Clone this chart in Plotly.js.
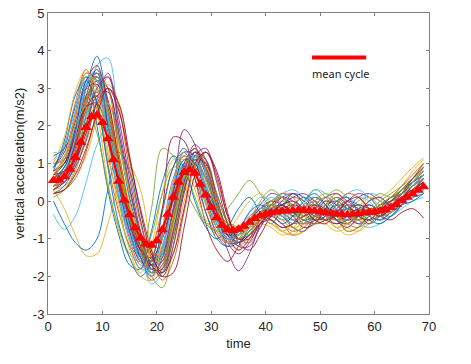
<!DOCTYPE html>
<html><head><meta charset="utf-8">
<script src="https://cdn.plot.ly/plotly-3.0.1.min.js"></script>
<style>html,body{margin:0;padding:0;background:#fff}#chart{width:471px;height:364px}</style>
</head><body><div id="chart"></div>
<script>
// sample times of the individual cycles
const cycleTimes = [1,3,5,7,9,11,13,15,17,19,21,23,25,27,29,31,33,35,37,39,41,43,45,47,49,51,53,55,57,59,61,63,65,67,69];
// individual cycles
const cycles = [
[0.6,0.9,1.7,3.0,3.4,2.1,0.5,-0.7,-1.5,-1.7,-0.8,0.4,1.2,0.9,0.0,-0.7,-1.0,-0.8,-0.5,-0.3,-0.1,-0.2,-0.4,-0.3,-0.1,-0.2,-0.4,-0.5,-0.4,-0.2,-0.3,-0.2,0.1,0.4,0.6],
[0.9,1.5,2.6,3.5,2.6,1.0,-0.3,-1.2,-1.8,-1.3,-0.2,0.9,1.3,0.6,-0.3,-0.9,-1.1,-0.7,-0.4,-0.2,-0.3,-0.5,-0.4,-0.2,0.0,-0.2,-0.5,-0.6,-0.4,-0.3,-0.1,0.0,0.2,0.5,0.8],
[0.3,0.4,0.7,1.2,2.2,3.1,2.6,1.0,-0.5,-1.5,-1.8,-0.9,0.4,1.1,0.8,-0.2,-0.8,-1.0,-0.6,-0.3,-0.5,-0.8,-0.6,-0.2,-0.1,-0.4,-0.7,-0.5,-0.2,0.0,0.1,0.3,0.6,0.9,1.15],
[0.4,0.7,1.4,2.7,3.2,2.3,0.8,-0.4,-1.3,-1.8,-1.2,0.2,1.9,1.5,0.2,-0.9,-1.2,-1.1,-0.8,-0.5,-0.2,0.1,0.2,0.0,-0.3,-0.5,-0.3,-0.1,-0.2,-0.4,-0.5,-0.3,-0.1,0.2,0.4],
[0.5,0.9,1.9,3.0,2.6,1.2,0.0,-1.2,-1.4,-0.2,1.4,1.2,0.4,-0.2,-0.6,-0.5,-0.2,0.2,0.55,0.2,-0.2,-0.4,-0.3,0.0,0.3,0.1,-0.3,-0.5,-0.3,0.0,0.2,0.1,0.3,0.5,0.7],
[0.3,0.5,1.0,2.0,3.6,3.8,1.8,0.0,-1.2,-1.9,-1.6,-0.2,0.9,1.2,0.5,-0.4,-0.9,-0.9,-0.6,-0.2,0.1,-0.1,-0.3,-0.4,-0.2,0.0,-0.2,-0.4,-0.6,-0.5,-0.3,-0.1,0.1,0.3,0.5],
[0.7,1.0,1.8,3.1,3.3,1.9,0.4,-0.8,-1.6,-1.5,-0.2,1.7,1.6,0.6,-0.6,-1.3,-1.6,-1.2,-0.7,-0.4,-0.2,-0.1,-0.3,-0.5,-0.4,-0.1,0.0,-0.2,-0.4,-0.3,-0.2,-0.1,0.2,0.3,0.6],
[0.5,0.8,1.6,3.0,3.85,2.5,0.7,-0.6,-1.4,-1.9,-1.3,0.1,1.0,1.1,0.3,-0.6,-1.1,-1.0,-0.6,-0.3,-0.2,-0.3,-0.1,0.1,-0.1,-0.4,-0.6,-0.4,-0.2,-0.3,-0.4,-0.3,0.0,0.2,0.3],
[0.8,1.1,1.9,2.8,3.1,2.2,0.8,-0.4,-1.2,-1.6,-1.4,-0.4,0.7,1.0,0.6,-0.3,-0.8,-0.9,-0.7,-0.5,-0.4,-0.6,-0.8,-0.7,-0.4,-0.2,-0.3,-0.6,-0.7,-0.5,-0.3,-0.1,0.1,0.4,0.7],
[0.3,-0.2,-0.9,-1.45,-1.4,-0.6,0.4,0.9,0.3,-1.2,-2.0,-1.4,0.0,1.0,0.9,0.0,-0.7,-0.9,-0.6,-0.4,-0.3,-0.5,-0.7,-0.6,-0.3,-0.2,-0.4,-0.6,-0.5,-0.3,-0.2,0.0,0.2,0.5,0.8],
[0.4,0.6,1.3,2.6,3.3,2.6,1.1,-0.3,-1.2,-1.7,-1.5,-0.3,0.9,1.5,1.1,-0.2,-1.3,-1.85,-1.4,-0.6,-0.1,0.1,0.0,-0.3,-0.5,-0.4,-0.2,0.0,-0.1,-0.3,-0.4,-0.2,0.1,0.3,0.5],
[0.6,0.9,1.6,2.6,3.1,2.4,1.0,-0.3,-1.3,-2.0,-2.3,-1.2,0.3,1.2,1.0,0.0,-0.8,-1.2,-0.9,-0.4,-0.1,0.0,-0.2,-0.4,-0.5,-0.3,-0.1,-0.2,-0.4,-0.3,-0.1,0.0,0.2,0.5,0.7],
[-0.35,-0.75,-0.4,0.5,1.5,2.0,1.2,-0.2,-1.3,-2.2,-1.9,-0.6,0.6,1.1,0.6,-0.3,-0.8,-0.9,-0.5,-0.2,0.0,0.2,0.0,-0.2,-0.3,-0.2,0.0,0.1,-0.1,-0.3,-0.2,0.0,0.2,0.4,0.6],
[1.2,1.4,2.1,3.2,3.6,2.3,0.6,-0.6,-1.4,-1.6,-1.0,0.2,1.1,1.0,0.2,-0.5,-0.9,-0.8,-0.5,-0.2,0.0,-0.1,-0.3,-0.2,-0.1,-0.3,-0.5,-0.4,-0.2,-0.1,-0.2,0.0,0.3,0.6,0.9],
[0.0,-0.6,-1.1,-1.3,-1.0,0.3,1.3,0.8,-0.5,-1.5,-1.6,-0.6,0.6,1.0,0.4,-0.3,-0.9,-0.8,-0.5,-0.3,-0.2,-0.1,-0.3,-0.5,-0.4,-0.3,-0.1,-0.2,-0.4,-0.5,-0.4,-0.2,0.0,0.1,0.2],
[0.7,1.2,2.2,3.3,3.0,1.6,0.1,-1.0,-1.7,-1.7,-0.7,0.6,1.2,0.8,-0.1,-0.8,-1.1,-0.9,-0.6,-0.3,-0.2,-0.1,0.1,0.0,-0.2,-0.4,-0.5,-0.3,-0.1,-0.2,-0.3,-0.1,0.2,0.5,0.9],
[0.5,0.7,1.3,2.4,3.0,2.5,1.2,-0.1,-1.1,-1.8,-1.7,-0.6,0.6,1.1,0.8,-0.1,-0.7,-0.8,-0.6,-0.4,-0.5,-0.8,-0.9,-0.6,-0.3,-0.2,-0.4,-0.7,-0.8,-0.6,-0.3,-0.1,0.2,0.6,1.0],
[0.9,1.3,2.3,3.4,3.2,1.8,0.2,-0.9,-1.6,-1.8,-0.9,0.4,1.3,1.2,0.3,-0.6,-1.0,-0.9,-0.5,-0.1,0.2,0.1,-0.1,-0.3,-0.2,0.1,0.2,0.0,-0.2,-0.3,-0.2,0.0,0.2,0.4,0.6],
[0.3,0.6,1.2,2.2,2.9,2.4,1.0,-0.3,-1.2,-1.9,-1.8,-0.6,0.7,1.3,0.9,-0.1,-0.7,-0.8,-0.5,-0.3,-0.2,-0.3,-0.1,0.1,0.0,-0.3,-0.5,-0.3,0.0,0.1,-0.1,0.0,0.3,0.6,0.8],
[1.3,1.3,1.9,3.0,3.5,2.2,0.5,-0.7,-1.5,-2.0,-1.3,0.1,1.0,1.0,0.2,-0.6,-1.0,-0.9,-0.7,-0.4,-0.3,-0.5,-0.4,-0.1,0.1,-0.1,-0.3,-0.2,-0.1,-0.3,-0.5,-0.4,-0.2,0.0,0.1],
[0.6,0.8,1.5,2.8,3.5,2.7,1.1,-0.3,-1.2,-1.7,-1.6,-0.4,0.8,1.3,0.9,-0.2,-0.9,-1.3,-1.0,-0.5,-0.2,-0.3,-0.5,-0.6,-0.4,-0.2,-0.3,-0.5,-0.4,-0.2,-0.2,-0.1,0.1,0.3,0.5],
[0.2,0.4,1.0,2.3,3.2,3.0,1.6,0.1,-1.0,-1.8,-1.9,-0.8,0.5,1.2,0.9,-0.1,-0.8,-1.0,-0.8,-0.5,-0.3,-0.4,-0.6,-0.5,-0.3,-0.2,-0.3,-0.4,-0.3,-0.4,-0.5,-0.3,-0.1,0.0,0.2],
[0.4,0.7,1.5,2.7,3.2,2.5,1.0,-0.4,-1.4,-2.1,-1.8,-0.5,0.7,1.3,1.0,0.0,-0.7,-1.0,-0.8,-0.5,-0.4,-0.6,-0.9,-0.8,-0.5,-0.3,-0.5,-0.8,-0.7,-0.4,-0.2,0.0,0.3,0.6,1.0],
[0.2,0.3,0.9,1.8,2.6,2.6,1.5,0.2,-0.8,-1.5,-1.6,-0.7,0.4,1.0,0.9,0.2,-0.5,-0.8,-0.7,-0.6,-0.7,-0.9,-0.8,-0.5,-0.4,-0.6,-0.8,-0.7,-0.5,-0.3,-0.1,0.1,0.4,0.8,1.1],
[0.5,0.8,1.5,2.5,2.8,2.0,0.7,-0.5,-1.3,-1.7,-1.4,-0.3,0.8,1.3,0.7,-0.3,-0.9,-1.1,-0.9,-0.6,-0.3,0.0,0.2,0.1,-0.2,-0.4,-0.3,0.0,0.2,0.1,-0.2,-0.3,0.0,0.3,0.5],
[0.7,1.0,1.6,2.7,3.3,2.4,0.9,-0.5,-1.4,-1.8,-1.4,-0.2,1.0,1.4,0.8,-0.2,-0.8,-0.9,-0.5,0.0,0.3,0.1,-0.2,-0.4,-0.2,0.1,0.3,0.1,-0.2,-0.3,-0.1,0.1,0.3,0.5,0.8],
[0.9,1.2,2.0,3.1,3.0,1.7,0.2,-0.9,-1.6,-1.9,-1.2,0.0,1.0,1.1,0.4,-0.5,-1.0,-1.1,-0.8,-0.4,-0.2,-0.3,-0.5,-0.6,-0.4,-0.2,-0.2,-0.4,-0.6,-0.7,-0.6,-0.4,-0.1,0.2,0.4],
[0.3,0.5,1.1,2.0,2.8,2.9,1.8,0.3,-0.9,-1.7,-1.9,-1.0,0.3,1.1,1.0,0.2,-0.6,-1.0,-0.9,-0.6,-0.4,-0.2,-0.1,-0.2,-0.4,-0.5,-0.4,-0.2,-0.1,-0.2,-0.3,-0.1,0.1,0.4,0.7],
[0.6,0.9,1.8,3.2,3.4,2.0,0.4,-0.8,-1.5,-1.6,-0.8,0.3,1.1,1.0,0.1,-0.7,-1.1,-1.1,-0.8,-0.5,-0.3,-0.2,-0.3,-0.5,-0.6,-0.5,-0.3,-0.2,-0.3,-0.5,-0.6,-0.4,-0.1,0.2,0.3],
[1.0,1.1,1.6,2.4,2.9,2.3,1.0,-0.3,-1.2,-1.6,-1.3,-0.3,0.8,1.1,0.6,-0.2,-0.6,-0.7,-0.5,-0.2,-0.1,-0.3,-0.5,-0.4,-0.1,0.1,-0.1,-0.4,-0.5,-0.3,-0.1,0.1,0.4,0.7,1.0],
[0.4,0.6,1.0,1.6,2.1,1.8,0.9,-0.1,-0.9,-1.4,-1.3,-0.4,0.5,0.8,0.5,-0.2,-0.7,-0.9,-0.8,-0.5,-0.6,-0.8,-0.9,-0.8,-0.6,-0.5,-0.7,-0.9,-0.8,-0.5,-0.3,-0.1,0.2,0.5,0.8],
[0.7,1.0,1.9,3.0,3.1,2.0,0.6,-0.6,-1.5,-2.0,-1.5,-0.2,1.0,1.4,0.8,-0.3,-1.1,-1.4,-1.1,-0.6,-0.3,-0.1,0.1,0.2,0.0,-0.3,-0.4,-0.2,0.1,0.2,0.0,-0.1,0.1,0.3,0.6],
[0.1,0.3,0.8,1.7,2.5,2.6,1.6,0.3,-0.9,-1.8,-1.9,-0.9,0.4,1.2,1.1,0.2,-0.6,-1.0,-0.8,-0.4,-0.1,-0.2,-0.4,-0.3,0.0,0.2,0.0,-0.3,-0.5,-0.3,0.0,0.2,0.4,0.6,0.9],
[0.5,0.7,1.3,2.3,2.7,1.9,0.6,-0.6,-1.4,-1.9,-1.7,-0.5,0.7,1.2,0.8,-0.2,-0.8,-1.0,-0.7,-0.3,0.0,0.2,0.3,0.1,-0.2,-0.3,-0.1,0.2,0.3,0.1,-0.2,-0.3,-0.1,0.1,0.3],
[0.8,1.0,1.7,2.5,2.6,1.7,0.5,-0.6,-1.3,-1.5,-1.0,0.0,0.8,0.9,0.3,-0.4,-0.8,-0.8,-0.6,-0.4,-0.5,-0.7,-0.6,-0.4,-0.3,-0.5,-0.6,-0.5,-0.3,-0.3,-0.4,-0.5,-0.3,-0.2,-0.45],
[0.8,1.6,2.8,3.3,2.0,0.3,-0.9,-1.7,-1.8,-0.8,0.5,1.2,0.9,0.0,-0.7,-1.0,-0.7,-0.2,0.1,-0.3,-0.6,-0.2,0.2,-0.1,-0.5,-0.4,0.0,0.1,-0.3,-0.6,-0.4,0.0,0.3,0.5,0.7],
[0.2,0.3,0.6,1.3,2.4,3.3,2.5,0.8,-0.6,-1.5,-2.1,-1.6,-0.3,0.9,1.3,0.6,-0.4,-1.0,-1.1,-0.7,-0.2,0.1,-0.2,-0.6,-0.5,-0.1,0.2,-0.1,-0.5,-0.6,-0.3,0.0,0.2,0.4,0.6],
[1.0,1.7,2.9,3.5,2.4,0.5,-0.8,-1.5,-1.9,-1.2,0.2,1.1,1.1,0.3,-0.5,-0.9,-0.8,-0.4,0.0,0.2,-0.1,-0.5,-0.7,-0.3,0.1,0.0,-0.4,-0.6,-0.3,0.1,0.0,-0.2,0.1,0.5,0.9],
[0.4,0.5,0.9,1.6,2.7,3.4,2.2,0.6,-0.8,-1.7,-2.0,-1.2,0.2,1.2,1.4,0.5,-0.6,-1.2,-1.2,-0.7,-0.3,-0.4,-0.7,-0.8,-0.4,0.0,-0.1,-0.4,-0.6,-0.4,-0.1,0.0,0.1,0.3,0.5],
[0.6,1.1,2.0,2.5,1.8,0.4,-0.7,-1.4,-1.6,-0.9,0.2,0.9,0.8,0.1,-0.6,-0.8,-0.6,-0.7,-0.9,-0.5,-0.1,-0.3,-0.7,-0.8,-0.5,-0.2,-0.4,-0.8,-0.7,-0.3,-0.1,0.1,0.3,0.6,0.9],
[0.5,0.8,1.7,3.1,3.5,2.3,0.7,-0.7,-1.6,-2.0,-1.4,0.0,1.1,1.2,0.3,-0.6,-1.0,-0.8,-0.3,0.1,0.0,-0.4,-0.5,-0.1,0.3,0.2,-0.2,-0.5,-0.2,0.2,0.1,-0.2,0.0,0.4,0.7],
[0.7,0.8,1.1,1.8,2.6,3.0,2.4,1.1,-0.2,-1.3,-2.0,-1.9,-0.7,0.7,1.3,0.8,-0.3,-1.1,-1.3,-0.9,-0.4,-0.2,-0.4,-0.7,-0.6,-0.2,0.1,-0.1,-0.4,-0.5,-0.2,0.1,0.2,0.5,0.8],
[0.9,1.4,2.5,3.2,2.6,0.9,-0.6,-1.5,-2.0,-1.6,-0.3,0.9,1.4,0.8,-0.3,-1.0,-1.2,-0.8,-0.3,-0.1,-0.3,-0.6,-0.4,0.0,0.2,-0.1,-0.5,-0.6,-0.3,-0.1,-0.3,-0.4,-0.1,0.3,0.5],
[0.3,0.6,1.3,2.5,3.4,3.0,1.3,-0.2,-1.2,-1.9,-1.7,-0.5,0.8,1.4,0.9,-0.2,-1.0,-1.3,-1.0,-0.5,-0.1,0.2,0.1,-0.3,-0.6,-0.5,-0.1,0.2,0.1,-0.2,-0.4,-0.3,0.0,0.3,0.6],
[0.7,1.2,2.3,3.4,3.0,1.4,-0.2,-1.3,-2.0,-2.1,-1.0,0.4,1.2,0.9,0.0,-0.7,-1.1,-1.0,-0.7,-0.5,-0.6,-0.8,-0.6,-0.3,-0.2,-0.4,-0.7,-0.6,-0.3,-0.2,-0.4,-0.3,0.0,0.3,0.4],
[0.5,0.6,1.0,2.0,3.0,3.3,2.0,0.4,-0.9,-1.8,-1.8,-0.8,0.5,1.3,1.1,0.1,-0.8,-1.1,-0.9,-0.6,-0.5,-0.7,-0.6,-0.2,0.1,-0.1,-0.5,-0.7,-0.4,0.0,0.1,-0.1,0.2,0.6,0.9],
[0.4,0.6,1.2,2.1,2.5,2.0,0.9,-0.3,-1.1,-1.6,-1.5,-0.5,0.6,1.0,0.6,-0.2,-0.7,-0.8,-0.6,-0.3,0.0,0.1,-0.2,-0.5,-0.4,-0.1,0.1,-0.2,-0.5,-0.4,-0.1,0.1,0.2,0.4,0.6],
[1.1,1.5,2.4,3.3,3.2,1.7,0.1,-1.1,-1.8,-1.8,-0.8,0.5,1.3,1.1,0.2,-0.6,-1.0,-0.9,-0.5,-0.2,-0.2,-0.4,-0.3,0.0,0.1,-0.2,-0.4,-0.2,0.1,0.0,-0.3,-0.2,0.1,0.5,0.8],
[0.2,0.3,0.7,1.4,2.3,3.0,2.6,1.2,-0.3,-1.4,-1.9,-1.4,-0.2,1.0,1.3,0.7,-0.4,-1.0,-1.0,-0.6,-0.3,-0.1,0.0,-0.2,-0.5,-0.6,-0.3,0.0,0.1,-0.2,-0.4,-0.2,0.1,0.3,0.4]
];
// mean cycle
const meanTimes = [];
for (let t = 1; t <= 69; t++) meanTimes.push(t);
const meanCycle = [0.55,0.56,0.65,0.85,1.16,1.56,1.96,2.24,2.29,2.09,1.66,1.10,0.53,0.02,-0.36,-0.71,-0.98,-1.14,-1.17,-1.05,-0.76,-0.35,0.10,0.50,0.76,0.83,0.74,0.45,0.16,-0.17,-0.44,-0.64,-0.76,-0.78,-0.75,-0.67,-0.56,-0.46,-0.39,-0.34,-0.31,-0.29,-0.27,-0.26,-0.25,-0.24,-0.24,-0.25,-0.26,-0.28,-0.30,-0.32,-0.34,-0.35,-0.36,-0.35,-0.33,-0.31,-0.30,-0.28,-0.26,-0.22,-0.17,-0.09,0.01,0.10,0.19,0.29,0.38];
const xTicks = [0,10,20,30,40,50,60,70];
const yTicks = [-3,-2,-1,0,1,2,3,4,5];

const palette = ['#0072BD','#D95319','#EDB120','#7E2F8E','#77AC30','#4DBEEE','#A2142F'];
const traces = cycles.map((c, i) => ({
  x: cycleTimes, y: c, type: 'scatter', mode: 'lines',
  line: {color: palette[i % palette.length], width: 0.9, shape: 'spline', smoothing: 1},
  showlegend: false, hoverinfo: 'skip'
}));
traces.push({
  x: meanTimes, y: meanCycle, type: 'scatter', mode: 'lines+markers',
  line: {color: '#FF0000', width: 2},
  marker: {symbol: 'triangle-up', size: 10, color: '#FF0000'},
  showlegend: false, name: 'mean cycle'
});

const font = 'Liberation Sans, Arial, sans-serif';
const axisCommon = {
  showline: true, mirror: 'ticks', linecolor: '#808080', linewidth: 1,
  ticks: 'inside', ticklen: 3, tickcolor: '#808080',
  showgrid: false, zeroline: false,
  tickfont: {family: font, size: 13, color: '#262626'}
};
const layout = {
  width: 471, height: 364,
  margin: {l: 48, r: 42, t: 13, b: 50},
  paper_bgcolor: '#ffffff', plot_bgcolor: '#ffffff',
  xaxis: Object.assign({}, axisCommon, {
    range: [0, 70], tickvals: xTicks, ticktext: xTicks.map(String),
    title: {text: 'time', font: {family: font, size: 13, color: '#262626'}, standoff: 6}
  }),
  yaxis: Object.assign({}, axisCommon, {
    range: [-3, 5], tickvals: yTicks, ticktext: yTicks.map(String),
    title: {text: 'vertical acceleration(m/s2)', font: {family: font, size: 13, color: '#262626'}, standoff: 5}
  }),
  shapes: [{type: 'line', xref: 'paper', yref: 'paper', x0: 0.693, x1: 0.835, y0: 0.852, y1: 0.852,
            line: {color: '#FF0000', width: 4}}],
  annotations: [{xref: 'paper', yref: 'paper', x: 0.768, y: 0.80, text: 'mean cycle', showarrow: false,
                 xanchor: 'center', yanchor: 'middle',
                 font: {family: 'Noto Sans, Open Sans, sans-serif', size: 11, color: '#222222'}}]
};
Plotly.newPlot('chart', traces, layout, {staticPlot: true, displayModeBar: false});
</script></body></html>
